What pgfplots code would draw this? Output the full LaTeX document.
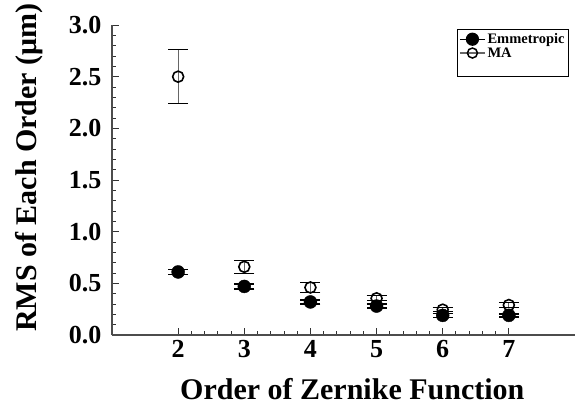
\documentclass[border=0pt]{standalone}
\usepackage{pgfplots}
\pgfplotsset{compat=1.18}
\usepackage{fontspec}
\setmainfont{Liberation Serif}
\begin{document}
\begin{tikzpicture}
\begin{axis}[
  at={(0,0)}, anchor=south west,
  scale only axis,
  width=463pt, height=310pt,
  xmin=1, xmax=8, ymin=0, ymax=3.0,
  axis x line*=bottom, axis y line*=left,
  axis line style={draw=black!70, line width=1.2pt, -},
  xtick={2,3,4,5,6,7},
  ytick={0,0.5,1,1.5,2,2.5,3},
  minor x tick num=4, minor y tick num=4,
  tick align=inside,
  major tick length=7pt, minor tick length=4pt,
  tick style={draw=black!80, line width=0.9pt},
  /pgf/number format/assume math mode=true,
  yticklabel style={/pgf/number format/fixed, /pgf/number format/fixed zerofill, /pgf/number format/precision=1, font=\fontsize{26}{26}\selectfont\bfseries, anchor=east, xshift=-7pt},
  xticklabel style={font=\fontsize{26}{26}\selectfont\bfseries, anchor=center, yshift=-14pt},
  xlabel={Order of Zernike Function},
  ylabel={RMS of Each Order (μm)},
  every axis x label/.style={at={(axis description cs:0.519,-0.174)}, anchor=center},
  every axis y label/.style={at={(axis description cs:-0.179,0.54)}, anchor=center, rotate=90},
  label style={font=\fontsize{30}{30}\selectfont\bfseries},
  legend style={at={(0.987,0.987)}, anchor=north east, draw=black, line width=0.8pt, font=\fontsize{14.5}{14.5}\selectfont\bfseries, inner xsep=2pt, inner ysep=2pt, row sep=-1.5pt, legend cell align=left},
  legend image code/.code={\draw[mark repeat=2, mark phase=2] plot coordinates {(0pt,0pt) (12.5pt,0pt) (25pt,0pt)};},
  legend image post style={line width=1.2pt},
]
\addplot[black, only marks, mark=*, mark size=6.5pt,
  error bars/.cd, y dir=both, y explicit,
  error bar style={black, line width=1.5pt},
  error mark options={rotate=90, mark size=10pt, line width=1.5pt}]
  coordinates {
  (2,0.61) +- (0,0.025)
  (3,0.47) +- (0,0.025)
  (4,0.32) +- (0,0.02)
  (5,0.28) +- (0,0.02)
  (6,0.19) +- (0,0.02)
  (7,0.19) +- (0,0.015)
  };
\addlegendimage{black, mark=*, mark size=6pt}
\addplot[black, only marks, mark=o, mark size=5.5pt, mark options={line width=1.6pt},
  error bars/.cd, y dir=both, y explicit,
  error bar style={black!60, line width=1pt},
  error mark options={rotate=90, mark size=10pt, line width=1pt, draw=black}]
  coordinates {
  (2,2.50) +- (0,0.26)
  (3,0.66) +- (0,0.06)
  (4,0.46) +- (0,0.05)
  (5,0.355) +- (0,0.025)
  (6,0.245) +- (0,0.022)
  (7,0.29) +- (0,0.025)
  };
\addlegendimage{black!60, mark=o, mark size=5pt, mark options={draw=black, line width=1.5pt}}
\addlegendimage{empty legend}
\legend{,Emmetropic,,MA,\phantom{M}}
\end{axis}
\pgfresetboundingbox
\useasboundingbox (-112pt,-72pt) rectangle (463pt,335pt);
\end{tikzpicture}
\end{document}
